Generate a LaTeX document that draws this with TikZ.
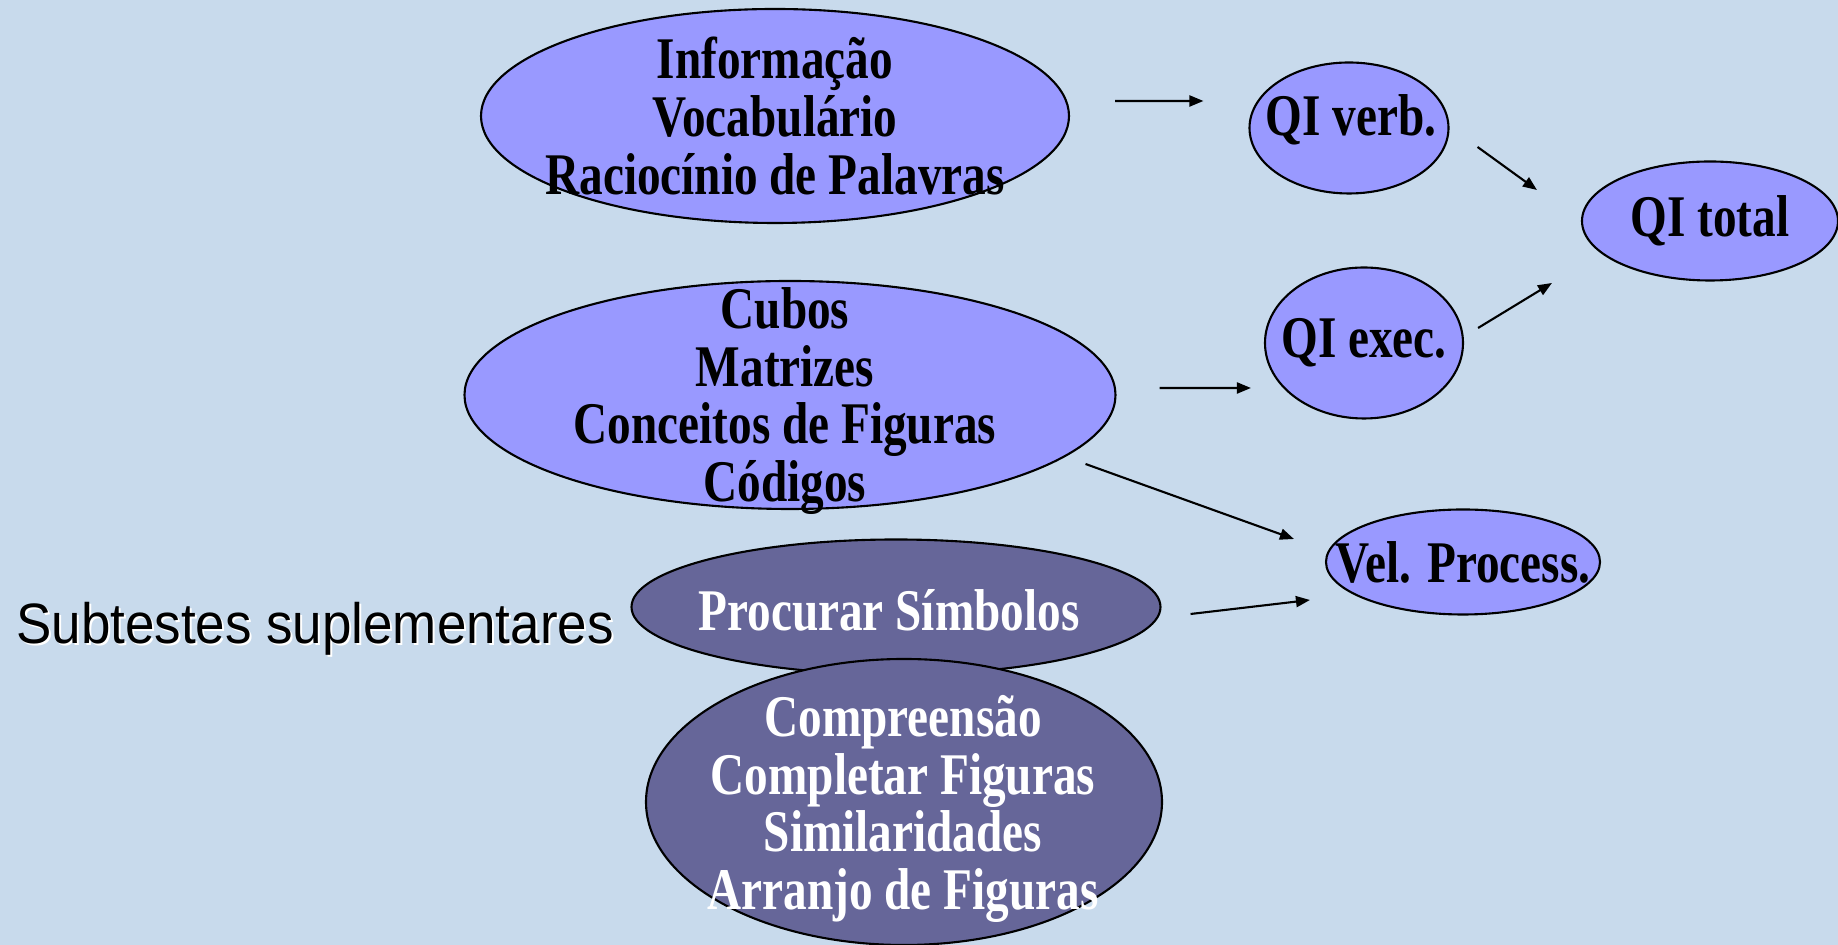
\documentclass[tikz,border=0pt]{standalone}
\usepackage{fontspec}
\setmainfont{Liberation Serif}
\newfontfamily\ovalfont{Liberation Serif}[FakeStretch=0.8]
\newfontfamily\notefont{Liberation Sans}[FakeStretch=0.93]
\usetikzlibrary{shapes.geometric, arrows.meta}

\definecolor{slidebg}{RGB}{200,218,236}
\definecolor{lilac}{RGB}{153,153,255}
\definecolor{slate}{RGB}{102,102,153}

\tikzset{
    bubble/.style={ellipse, draw, line width=0.6pt, fill=lilac, inner sep=0pt},
    darkbubble/.style={bubble, fill=slate},
    words/.style={align=center, inner sep=0pt,
        font=\ovalfont\bfseries\fontsize{16.8}{16.4}\selectfont},
    arr/.style={line width=0.6pt, -{Triangle[length=1.4mm, width=1.1mm]}},
}

\begin{document}
\begin{tikzpicture}
\useasboundingbox (0, 0) rectangle (18.38, -9.45);
\fill[slidebg] (0, 0) rectangle (18.38, -9.45);

\node[bubble, minimum width=5.88cm, minimum height=2.14cm]
    (verbal) at (7.75, -1.16) {};
\node[words] (verbal-txt) at (verbal) {Informação\\Vocabulário\\Raciocínio de Palavras};

\node[bubble, minimum width=1.99cm, minimum height=1.31cm]
    (qiverb) at (13.49, -1.28) {};
\node[words] (qiverb-txt) at (13.51, -1.20) {QI verb.};

\node[bubble, minimum width=2.56cm, minimum height=1.19cm]
    (qitotal) at (17.10, -2.21) {};
\node[words] (qitotal-txt) at (qitotal) {QI total};

\node[bubble, minimum width=1.98cm, minimum height=1.51cm]
    (qiexec) at (13.64, -3.43) {};
\node[words] (qiexec-txt) at (qiexec) {QI exec.};

\node[bubble, minimum width=6.51cm, minimum height=2.28cm]
    (perf) at (7.90, -3.95) {};
\node[words] (perf-txt) at (7.85, -4.01) {Cubos\\Matrizes\\Conceitos de Figuras\\Códigos};

\node[bubble, minimum width=2.74cm, minimum height=1.05cm]
    (vel) at (14.63, -5.62) {};
\node[words] (vel-txt) at (vel) {Vel. Process.};

\node[darkbubble, minimum width=5.29cm, minimum height=1.35cm]
    (procurar) at (8.96, -6.07) {};
\node[words, text=white] (procurar-txt) at (8.89, -6.10) {Procurar Símbolos};

\node[darkbubble, minimum width=5.16cm, minimum height=2.86cm]
    (suppl) at (9.04, -8.02) {};
\node[words, text=white] (suppl-txt) at (9.03, -8.09)
    {Compreensão\\Completar Figuras\\Similaridades\\Arranjo de Figuras};

\node[text=white, font=\notefont\fontsize{16.2}{19}\selectfont]
    (note-shadow) at (3.17, -6.31) {Subtestes suplementares};
\node[font=\notefont\fontsize{16.2}{19}\selectfont]
    (note) at (3.15, -6.29) {Subtestes suplementares};

\draw[arr] ([shift={(0.45, 0.15)}]verbal.east) -- ([shift={(-0.45, 0.27)}]qiverb.west);
\draw[arr] ([shift={(0.28, -0.19)}]qiverb.east) -- ([shift={(-0.44, 0.31)}]qitotal.west);
\draw[arr] ([shift={(0.14, 0.15)}]qiexec.east) -- ([shift={(-0.29, -0.62)}]qitotal.west);
\draw[arr] ([shift={(0.43, 0.07)}]perf.east) -- ([shift={(-0.13, -0.45)}]qiexec.west);
\draw[arr] ([shift={(-0.31, -0.69)}]perf.east) -- ([shift={(-0.31, 0.23)}]vel.west);
\draw[arr] ([shift={(0.29, -0.07)}]procurar.east) -- ([shift={(-0.15, -0.38)}]vel.west);
\end{tikzpicture}
\end{document}
